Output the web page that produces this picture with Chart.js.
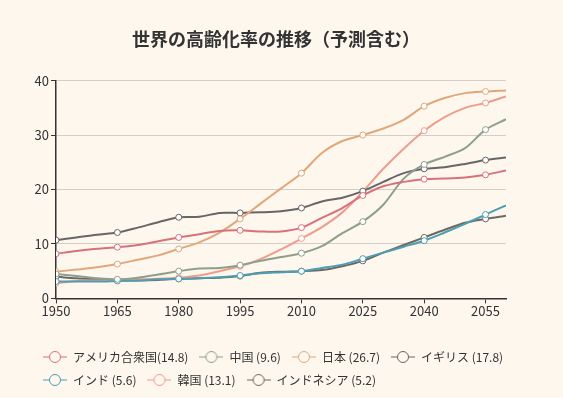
<!DOCTYPE html>
<html>
<head>
<meta charset="utf-8">
<script src="https://cdn.jsdelivr.net/npm/chart.js@4/dist/chart.umd.min.js"></script>
<style>
  html, body { margin: 0; padding: 0; background: #fdf7ee; }
  #wrap { width: 563px; height: 398px; }
</style>
</head>
<body>
<div id="wrap"><canvas id="myChart" width="563" height="398"></canvas></div>
<script>
const years = [1950, 1955, 1960, 1965, 1970, 1975, 1980, 1985, 1990, 1995, 2000, 2005,
    2010, 2015, 2020, 2025, 2030, 2035, 2040, 2045, 2050, 2055, 2060];

const names = ["アメリカ合衆国(14.8)", "中国 (9.6)", "日本 (26.7)", "イギリス (17.8)",
    "インド (5.6)", "韓国 (13.1)", "インドネシア (5.2)"];

const usa = [8.2, 8.7, 9.1, 9.4, 9.8, 10.5, 11.2, 11.8, 12.4, 12.5, 12.3, 12.3,
    13.0, 14.8, 16.6, 18.9, 20.6, 21.4, 21.9, 22.0, 22.2, 22.7, 23.5];
const china = [4.5, 4.1, 3.7, 3.5, 3.8, 4.4, 5.0, 5.5, 5.6, 6.1, 6.9, 7.6,
    8.3, 9.6, 12.0, 14.1, 17.2, 22.0, 24.6, 26.0, 27.6, 31.0, 32.9];
const japan = [4.9, 5.3, 5.7, 6.3, 7.1, 7.9, 9.1, 10.3, 12.1, 14.6, 17.4, 20.2,
    23.0, 26.7, 28.9, 30.0, 31.2, 32.8, 35.3, 36.8, 37.7, 38.0, 38.2];
const uk = [10.7, 11.2, 11.7, 12.1, 13.0, 14.0, 14.9, 15.0, 15.7, 15.7, 15.8, 16.0,
    16.6, 17.8, 18.5, 19.7, 21.4, 23.0, 23.8, 24.1, 24.7, 25.4, 25.9];
const india = [3.1, 3.1, 3.1, 3.2, 3.3, 3.5, 3.6, 3.7, 3.9, 4.2, 4.6, 4.8,
    5.0, 5.6, 6.2, 7.3, 8.4, 9.5, 10.6, 12.1, 13.7, 15.4, 17.1];
const korea = [2.8, 3.2, 3.3, 3.4, 3.5, 3.6, 3.8, 4.2, 5.0, 5.9, 7.2, 9.0,
    11.0, 13.1, 15.8, 19.6, 23.8, 27.5, 30.8, 33.3, 35.0, 35.9, 37.1];
const indonesia = [4.0, 3.7, 3.5, 3.3, 3.3, 3.4, 3.6, 3.7, 3.8, 4.1, 4.7, 4.9,
    5.0, 5.2, 5.9, 6.9, 8.4, 9.8, 11.2, 12.6, 13.9, 14.6, 15.2];

const xTicks = [1950, 1965, 1980, 1995, 2010, 2025, 2040, 2055];
const yTicks = [0, 10, 20, 30, 40];

const colors = ["#d9717b", "#8e9f8c", "#e1a77b", "#676567", "#4d9db4", "#f09b8c", "#6b6a62"];
const series = [usa, china, japan, uk, india, korea, indonesia];
const bg = "#fdf7ee";
const font = "'Noto Sans CJK JP', 'Noto Sans', sans-serif";

function legendIcon(color) {
    let c = document.createElement("canvas");
    c.width = 24;
    c.height = 14;
    let g = c.getContext("2d");
    g.strokeStyle = color;
    g.lineWidth = 1;
    g.beginPath();
    g.moveTo(0, 7);
    g.lineTo(24, 7);
    g.stroke();
    g.fillStyle = bg;
    g.beginPath();
    g.arc(12, 7, 5.5, 0, Math.PI * 2);
    g.fill();
    g.stroke();
    return c;
}

const icons = colors.map(legendIcon);

let datasets = [];
for (let i = 0; i < series.length; i++) {
    datasets.push({
        label: names[i],
        data: years.map((y, j) => ({ x: y, y: series[i][j] })),
        borderColor: colors[i],
        backgroundColor: "#ffffff",
        borderWidth: 2,
        tension: 0.3,
        pointRadius: c => ((c.raw.x - 1950) % 15 === 0 ? 3 : 0),
        pointHoverRadius: 3,
        pointBorderWidth: 1,
        pointBackgroundColor: "#ffffff",
        pointBorderColor: colors[i],
    });
}

const bgPlugin = {
    id: "bg",
    beforeDraw(chart) {
        const g = chart.ctx;
        g.save();
        g.fillStyle = bg;
        g.fillRect(0, 0, chart.width, chart.height);
        g.restore();
    }
};

// legend rows start under the y axis, not at the canvas edge
const legendShift = {
    id: "legendShift",
    afterLayout(chart) {
        chart.legend.left += 22;
        chart.legend.right += 22;
    }
};

Chart.defaults.font.family = font;
Chart.defaults.color = "#333";

const ctx = document.getElementById("myChart").getContext("2d");
const myChart = new Chart(ctx, {
    type: "line",
    data: { datasets: datasets },
    plugins: [bgPlugin, legendShift],
    options: {
        responsive: false,
        animation: false,
        layout: { padding: { left: 10, right: 21, top: 18, bottom: 2 } },
        plugins: {
            title: {
                display: true,
                text: "世界の高齢化率の推移（予測含む）",
                color: "#333",
                font: { size: 18, weight: "bold", family: font },
                padding: { top: 10, bottom: 31 },
            },
            legend: {
                position: "bottom",
                align: "start",
                labels: {
                    usePointStyle: true,
                    pointStyleWidth: 24,
                    color: "#333",
                    font: { size: 12, family: font },
                    padding: 11,
                    generateLabels(chart) {
                        return chart.data.datasets.map((d, i) => ({
                            text: d.label,
                            pointStyle: icons[i],
                            fillStyle: bg,
                            strokeStyle: colors[i],
                            lineWidth: 1,
                            hidden: false,
                            datasetIndex: i,
                            fontColor: "#333",
                        }));
                    },
                },
            },
            tooltip: { enabled: false },
        },
        scales: {
            x: {
                type: "linear",
                min: 1950,
                max: 2060,
                afterBuildTicks(scale) {
                    scale.ticks = xTicks.map(v => ({ value: v }));
                },
                afterFit(scale) {
                    scale.height += 21;
                },
                ticks: {
                    color: "#333",
                    font: { size: 13 },
                    padding: 0,
                    maxRotation: 0,
                    autoSkip: false,
                    callback: v => String(v),
                },
                grid: { display: true, drawOnChartArea: false, drawTicks: true, tickLength: 5, color: "#333" },
                border: { color: "#333", width: 1.5 },
            },
            y: {
                min: 0,
                max: 40,
                afterBuildTicks(scale) {
                    scale.ticks = yTicks.map(v => ({ value: v }));
                },
                afterFit(scale) {
                    scale.width = 46;
                },
                ticks: { color: "#333", font: { size: 13 }, padding: 2 },
                grid: { color: "#d3cec6", tickLength: 5, tickColor: "#333" },
                border: { color: "#333", width: 1.5 },
            },
            yRight: {
                position: "right",
                display: true,
                min: 0,
                max: 40,
                afterFit(scale) {
                    scale.width = 36;
                },
                ticks: { display: false },
                grid: { display: false },
                border: { display: false },
            },
        },
    },
});
</script>
</body>
</html>
